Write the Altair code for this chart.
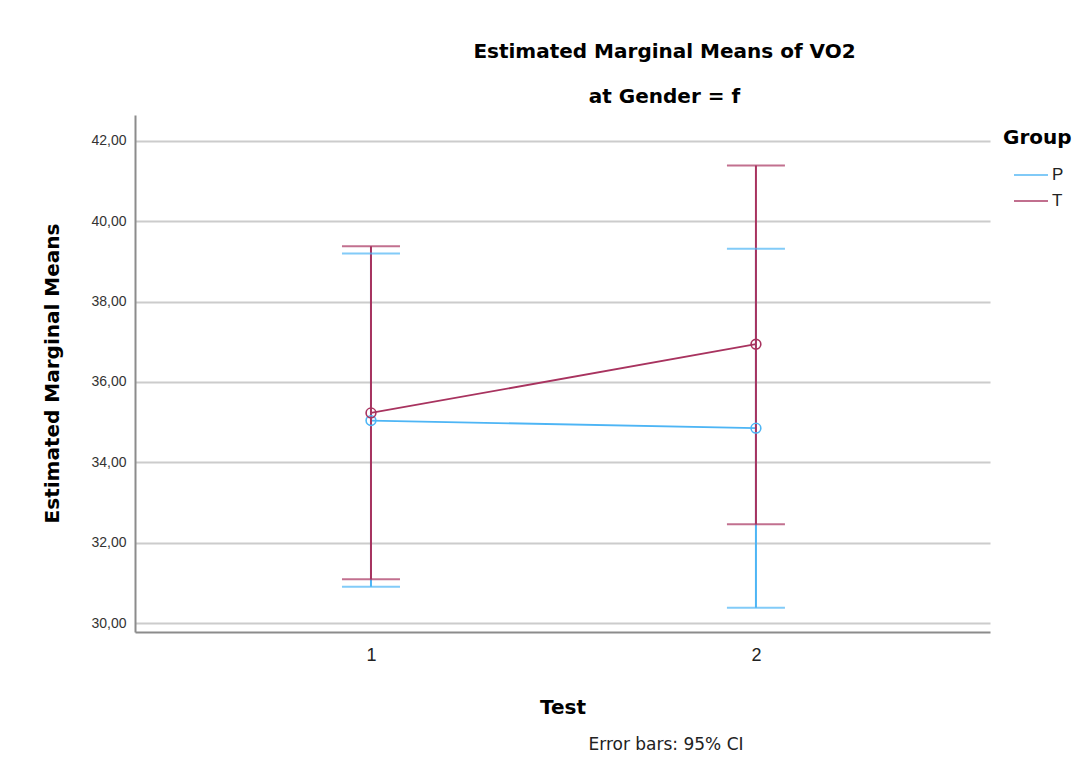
import altair as alt
import pandas as pd

tests = [1, 2]
groups = ["P", "T"]
p_mean = [35.04, 34.85]
p_lower = [30.90, 30.38]
p_upper = [39.20, 39.32]
t_mean = [35.23, 36.94]
t_lower = [31.09, 32.46]
t_upper = [39.38, 41.39]
y_ticks = [30, 32, 34, 36, 38, 40, 42]
colors = ["#4DB5F5", "#A8335F"]
footnote = ["Error bars: 95% CI"]

rows = []
for g, m, lo, hi in [("P", p_mean, p_lower, p_upper), ("T", t_mean, t_lower, t_upper)]:
    for i, t in enumerate(tests):
        rows.append({"Test": t, "Group": g, "order": groups.index(g),
                     "mean": m[i], "lower": lo[i], "upper": hi[i]})
df = pd.DataFrame(rows)

FONT = "Liberation Sans"
BOLD = "DejaVu Sans"

x_enc = alt.X("Test:Q",
              scale=alt.Scale(domain=[0.387, 2.608], nice=False, zero=False),
              axis=alt.Axis(values=tests, format="d", title="Test", grid=False,
                            ticks=False, domainColor="#8c8c8c", domainWidth=2,
                            labelFontSize=18, labelColor="#222222", labelFont=FONT,
                            labelPadding=14, titleFontSize=20, titleFont=BOLD,
                            titleFontWeight="bold", titleColor="black",
                            titleY=75, titleBaseline="middle"))
y_scale = alt.Scale(domain=[29.776, 42.647], nice=False, zero=False)
y_axis = alt.Axis(values=y_ticks, title="Estimated Marginal Means",
                  labelExpr="replace(format(datum.value, '.2f'), '.', ',')",
                  grid=True, gridColor="#cccccc", gridWidth=2, ticks=False,
                  domainColor="#8c8c8c", domainWidth=2,
                  labelFontSize=14, labelColor="#333333", labelFont=FONT,
                  labelPadding=9, titleFontSize=20, titleFont=BOLD,
                  titleFontWeight="bold", titleColor="black",
                  titleAngle=270, titleX=-83, titleY=258,
                  titleAlign="center", titleBaseline="middle")
color_enc = alt.Color("Group:N", scale=alt.Scale(domain=groups, range=colors),
                      legend=alt.Legend(title="Group", orient="none",
                                        legendX=868, legendY=13,
                                        symbolType="stroke", symbolSize=1156,
                                        symbolStrokeWidth=2, symbolOffset=10,
                                        titleFontSize=20, titleFont=BOLD,
                                        titleFontWeight="bold", titleColor="black",
                                        labelFontSize=17, labelFont=FONT,
                                        labelColor="#222222", labelOffset=3,
                                        rowPadding=0, titlePadding=9, padding=0))

base = alt.Chart(df)

lines = base.mark_line(strokeWidth=1.8).encode(
    x=x_enc, y=alt.Y("mean:Q", scale=y_scale, axis=y_axis),
    color=color_enc, detail="Group:N")

rules = base.mark_rule(strokeWidth=2).encode(
    x="Test:Q", y="lower:Q", y2="upper:Q", color=color_enc,
    order="order:Q")

cap_hi = base.mark_tick(orient="horizontal", size=58, thickness=2).encode(
    x="Test:Q", y="upper:Q", color=color_enc)
cap_lo = base.mark_tick(orient="horizontal", size=58, thickness=2).encode(
    x="Test:Q", y="lower:Q", color=color_enc)

points = base.mark_point(filled=False, size=95, strokeWidth=1.6, opacity=1).encode(
    x="Test:Q", y="mean:Q", color=color_enc)

note = alt.Chart(pd.DataFrame({"t": footnote})).mark_text(
    fontSize=17, font="DejaVu Sans", color="#222222", align="center", baseline="middle"
).encode(text="t:N", x=alt.value(531), y=alt.value(630))

chart = alt.layer(lines, rules, cap_hi, cap_lo, points, note).properties(
    width=855, height=517,
    padding={"left": 127, "top": 107, "right": 82, "bottom": 124},
    autosize=alt.AutoSizeParams(type="none"),
    title=alt.TitleParams(text="Estimated Marginal Means of VO2",
                          subtitle="at Gender = f",
                          fontSize=20, subtitleFontSize=20,
                          subtitleFontWeight="bold", subtitleColor="black",
                          color="black", font=BOLD, subtitleFont=BOLD,
                          anchor="middle", dx=102, offset=8,
                          subtitlePadding=25),
).configure_view(stroke=None)

chart.save("out.html", embed_options={"renderer": "svg", "actions": False})
